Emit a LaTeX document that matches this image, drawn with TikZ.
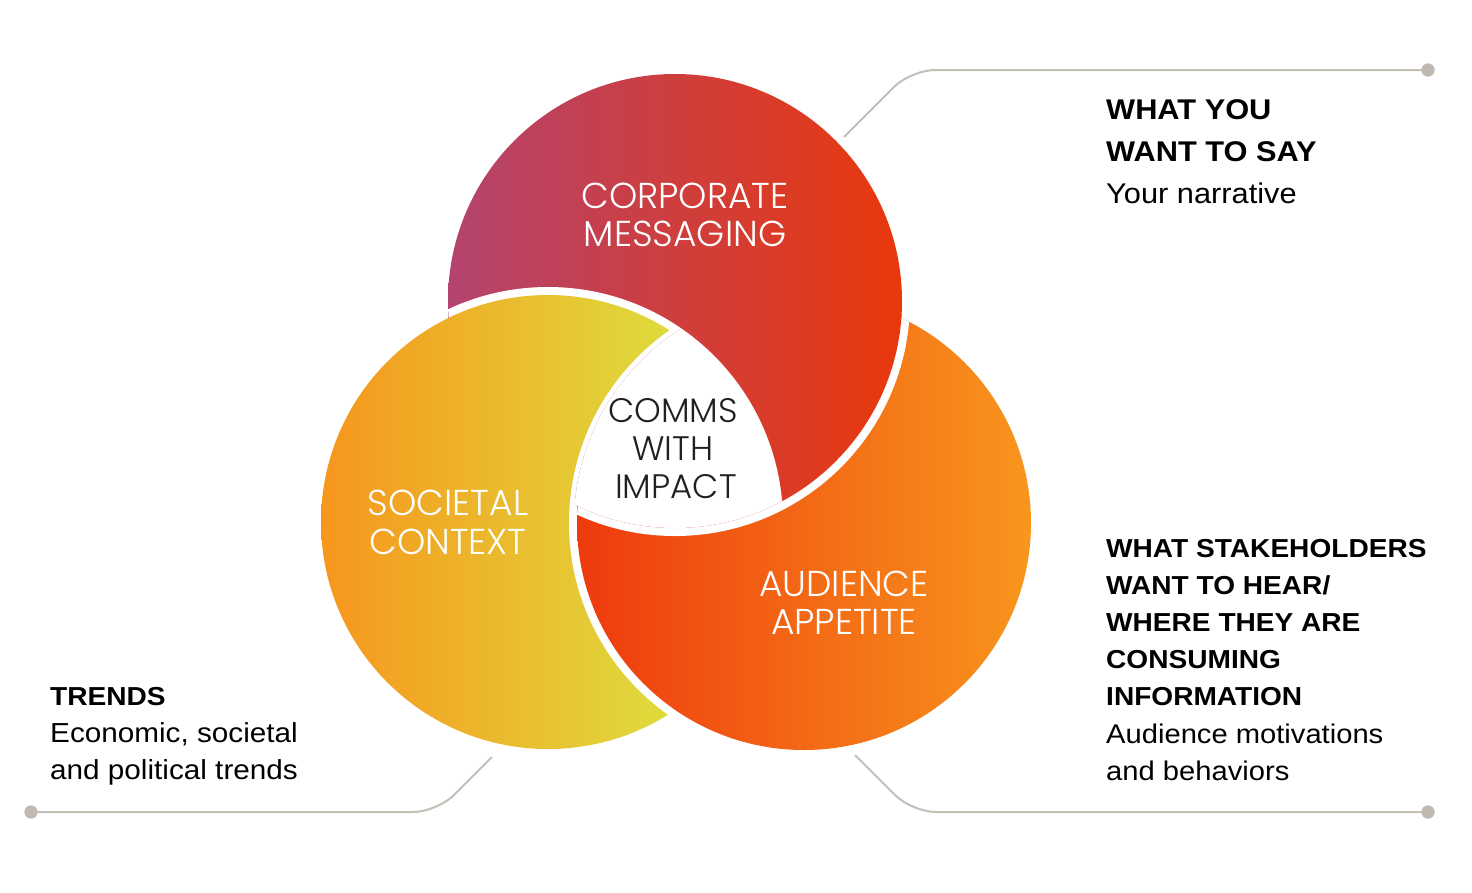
\documentclass[tikz,border=0pt]{standalone}
\usepackage{fontspec}
\newfontfamily\labfont{Poppins Light}
\newfontfamily\txtfont{Liberation Sans}[FakeStretch=1.08]
\definecolor{aL}{HTML}{B3446F}
\definecolor{aR}{HTML}{E9380C}
\definecolor{bL}{HTML}{F7961D}
\definecolor{bM}{HTML}{F0B526}
\definecolor{bR}{HTML}{DEDC3D}
\definecolor{cL}{HTML}{EE3A0E}
\definecolor{cM}{HTML}{FD6A1A}
\definecolor{cR}{HTML}{F8961D}
\definecolor{lineC}{HTML}{C6BFB8}
\definecolor{dotC}{HTML}{C0B9B2}
\definecolor{ink}{HTML}{231F20}
\begin{document}
\begin{tikzpicture}[x=1pt,y=-1pt,
  lab/.style={text=white, font=\labfont\fontsize{36}{38}\selectfont, anchor=base, inner sep=0pt},
  labc/.style={text=ink, font=\labfont\fontsize{34}{38}\selectfont, anchor=base, inner sep=0pt},
  hbA/.style={anchor=base west, inner sep=0pt, text=black, font=\txtfont\bfseries\fontsize{28.5}{34}\selectfont},
  hrA/.style={anchor=base west, inner sep=0pt, text=black, font=\txtfont\fontsize{28.5}{34}\selectfont},
  hbB/.style={anchor=base west, inner sep=0pt, text=black, font=\txtfont\bfseries\fontsize{26}{32}\selectfont},
  hrB/.style={anchor=base west, inner sep=0pt, text=black, font=\txtfont\fontsize{27}{32}\selectfont},
  hrT/.style={anchor=base west, inner sep=0pt, text=black, font=\txtfont\fontsize{27.5}{32}\selectfont},
  conn/.style={draw=lineC, line width=2pt, rounded corners=24pt},
  dotnode/.style={circle, fill=dotC, draw=none, minimum size=13pt, inner sep=0pt}]
\useasboundingbox (0,0) rectangle (1472,892);
\fill[white] (0,0) rectangle (1472,892);
\coordinate (A) at (675,301);
\coordinate (B) at (548,522);
\coordinate (C) at (804,523);
\def\R{227}\def\Rg{235}\def\Rc{230}
% top circle: A minus B'
\begin{scope}
\clip (A) circle[radius=\R];
\shade[left color=aL, right color=aR] (448,74) rectangle (902,528);
\fill[white] (B) circle[radius=\Rg];
\end{scope}
% left circle: B minus C'
\begin{scope}
\clip (B) circle[radius=\R];
\shade[left color=bL, middle color=bM, right color=bR] (321,295) rectangle (672,749);
\fill[white] (C) circle[radius=\Rg];
\end{scope}
% right circle: C minus A'
\begin{scope}
\clip (C) circle[radius=\R];
\shade[left color=cL, middle color=cM, right color=cR] (577,296) rectangle (1031,750);
\fill[white] (A) circle[radius=\Rg];
\end{scope}
% restore top circle where it lies over the right one
\begin{scope}
\clip (A) circle[radius=\R];
\clip (C) circle[radius=\Rc];
\shade[left color=aL, right color=aR] (448,74) rectangle (902,528);
\fill[white] (B) circle[radius=\Rg];
\end{scope}
% circle labels
\node[lab] (corp1) at (685,208) {CORPORATE};
\node[lab] (corp2) at (685,246) {MESSAGING};
\node[lab] (soc1) at (448,515) {SOCIETAL};
\node[lab] (soc2) at (448,554) {CONTEXT};
\node[lab] (aud1) at (844,596) {AUDIENCE};
\node[lab] (aud2) at (844,634) {APPETITE};
\node[labc] (cwi1) at (673,422) {COMMS};
\node[labc] (cwi2) at (673,460) {WITH};
\node[labc] (cwi3) at (676,498) {IMPACT};
% side texts
\node[hbA] (sayA) at (1106,119) {WHAT YOU};
\node[hbA] (sayB) at (1106,161) {WANT TO SAY};
\node[hrA] (sayC) at (1106,203) {Your narrative};
\node[hbB] (hearA) at (1106,557) {WHAT STAKEHOLDERS};
\node[hbB] (hearB) at (1106,594) {WANT TO HEAR/};
\node[hbB] (hearC) at (1106,631) {WHERE THEY ARE};
\node[hbB] (hearD) at (1106,668) {CONSUMING};
\node[hbB] (hearE) at (1106,705) {INFORMATION};
\node[hrB] (hearF) at (1106,743) {Audience motivations};
\node[hrB] (hearG) at (1106,780) {and behaviors};
\node[hbB] (trA) at (50,705) {TRENDS};
\node[hrT] (trB) at (50,742) {Economic, societal};
\node[hrT] (trC) at (50,779) {and political trends};
% connectors
\coordinate (s1) at (844,137);
\coordinate (k1) at (911,70);
\node[dotnode] (d1) at (1428,70) {};
\coordinate (s2) at (855,755);
\coordinate (k2) at (912,812);
\node[dotnode] (d2) at (1428,812) {};
\coordinate (s3) at (492,757);
\coordinate (k3) at (437,812);
\node[dotnode] (d3) at (31,812) {};
\draw[conn] (s1) -- (k1) -- (d1.center);
\draw[conn] (s2) -- (k2) -- (d2.center);
\draw[conn] (s3) -- (k3) -- (d3.center);
\node[dotnode] at (d1) {};
\node[dotnode] at (d2) {};
\node[dotnode] at (d3) {};
\end{tikzpicture}
\end{document}
